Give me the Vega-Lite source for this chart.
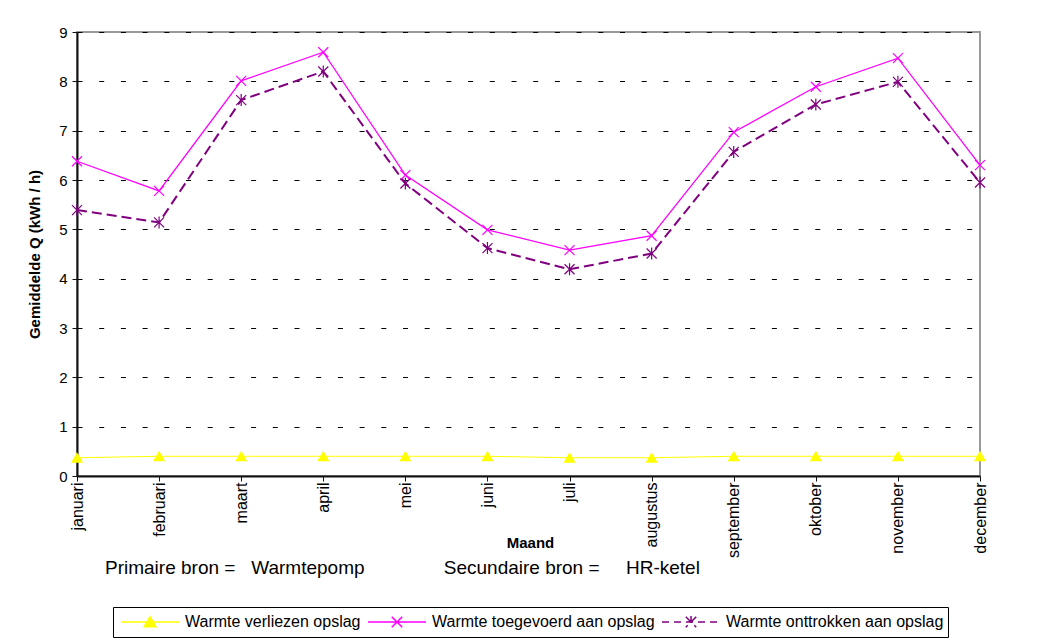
{
  "$schema": "https://vega.github.io/schema/vega-lite/v6.json",
  "width": 903,
  "height": 444,
  "autosize": {"type": "none"},
  "padding": {"left": 77, "top": 32, "right": 83, "bottom": 168},
  "background": "white",
  "title": {
    "text": "Primaire bron =\u00a0\u00a0\u00a0Warmtepomp\u00a0\u00a0\u00a0\u00a0\u00a0\u00a0\u00a0\u00a0\u00a0\u00a0\u00a0\u00a0\u00a0\u00a0\u00a0Secundaire bron =\u00a0\u00a0\u00a0\u00a0\u00a0HR-ketel",
    "orient": "bottom",
    "anchor": "start",
    "frame": "group",
    "dx": 28,
    "dy": -79,
    "offset": 0,
    "fontSize": 19,
    "fontWeight": "normal",
    "font": "Liberation Sans",
    "color": "black"
  },
  "data": {
    "values": [
      {"maand": "januari", "serie": "Warmte verliezen opslag", "q": 0.37},
      {"maand": "februari", "serie": "Warmte verliezen opslag", "q": 0.4},
      {"maand": "maart", "serie": "Warmte verliezen opslag", "q": 0.4},
      {"maand": "april", "serie": "Warmte verliezen opslag", "q": 0.4},
      {"maand": "mei", "serie": "Warmte verliezen opslag", "q": 0.4},
      {"maand": "juni", "serie": "Warmte verliezen opslag", "q": 0.4},
      {"maand": "juli", "serie": "Warmte verliezen opslag", "q": 0.37},
      {"maand": "augustus", "serie": "Warmte verliezen opslag", "q": 0.37},
      {"maand": "september", "serie": "Warmte verliezen opslag", "q": 0.4},
      {"maand": "oktober", "serie": "Warmte verliezen opslag", "q": 0.4},
      {"maand": "november", "serie": "Warmte verliezen opslag", "q": 0.4},
      {"maand": "december", "serie": "Warmte verliezen opslag", "q": 0.4},
      {"maand": "januari", "serie": "Warmte toegevoerd aan opslag", "q": 6.38},
      {"maand": "februari", "serie": "Warmte toegevoerd aan opslag", "q": 5.78},
      {"maand": "maart", "serie": "Warmte toegevoerd aan opslag", "q": 8.01},
      {"maand": "april", "serie": "Warmte toegevoerd aan opslag", "q": 8.59},
      {"maand": "mei", "serie": "Warmte toegevoerd aan opslag", "q": 6.1},
      {"maand": "juni", "serie": "Warmte toegevoerd aan opslag", "q": 4.99},
      {"maand": "juli", "serie": "Warmte toegevoerd aan opslag", "q": 4.58},
      {"maand": "augustus", "serie": "Warmte toegevoerd aan opslag", "q": 4.87},
      {"maand": "september", "serie": "Warmte toegevoerd aan opslag", "q": 6.97},
      {"maand": "oktober", "serie": "Warmte toegevoerd aan opslag", "q": 7.89},
      {"maand": "november", "serie": "Warmte toegevoerd aan opslag", "q": 8.47},
      {"maand": "december", "serie": "Warmte toegevoerd aan opslag", "q": 6.3},
      {"maand": "januari", "serie": "Warmte onttrokken aan opslag", "q": 5.39},
      {"maand": "februari", "serie": "Warmte onttrokken aan opslag", "q": 5.14},
      {"maand": "maart", "serie": "Warmte onttrokken aan opslag", "q": 7.62},
      {"maand": "april", "serie": "Warmte onttrokken aan opslag", "q": 8.2},
      {"maand": "mei", "serie": "Warmte onttrokken aan opslag", "q": 5.93},
      {"maand": "juni", "serie": "Warmte onttrokken aan opslag", "q": 4.62},
      {"maand": "juli", "serie": "Warmte onttrokken aan opslag", "q": 4.19},
      {"maand": "augustus", "serie": "Warmte onttrokken aan opslag", "q": 4.51},
      {"maand": "september", "serie": "Warmte onttrokken aan opslag", "q": 6.57},
      {"maand": "oktober", "serie": "Warmte onttrokken aan opslag", "q": 7.53},
      {"maand": "november", "serie": "Warmte onttrokken aan opslag", "q": 7.99},
      {"maand": "december", "serie": "Warmte onttrokken aan opslag", "q": 5.95}
    ]
  },
  "encoding": {
    "x": {
      "field": "maand",
      "type": "nominal",
      "scale": {"type": "point", "padding": 0, "domain": ["januari", "februari", "maart", "april", "mei", "juni", "juli", "augustus", "september", "oktober", "november", "december"]},
      "axis": {
        "title": "Maand",
        "titleFontWeight": "bold",
        "titleFontSize": 15,
        "titleX": 453,
        "titleY": 66,
        "titleBaseline": "middle",
        "labelAngle": 270,
        "labelFontSize": 16,
        "labelPadding": 1,
        "tickSize": 5,
        "grid": false,
        "domainColor": "#111111",
        "domainWidth": 2,
        "tickColor": "#111111",
        "labelColor": "black",
        "titleColor": "black"
      }
    },
    "y": {
      "field": "q",
      "type": "quantitative",
      "scale": {"domain": [0, 9], "nice": false},
      "axis": {
        "title": "Gemiddelde Q (kWh / h)",
        "titleFontWeight": "bold",
        "titleFontSize": 15,
        "titleX": -43,
        "titleY": 222,
        "titleAngle": 270,
        "titleBaseline": "middle",
        "titleAlign": "center",
        "values": [0, 1, 2, 3, 4, 5, 6, 7, 8, 9],
        "labelFontSize": 15,
        "labelPadding": 5,
        "tickSize": 5,
        "grid": true,
        "gridColor": "black",
        "gridDash": [5, 16.7],
        "gridWidth": 1,
        "domainColor": "#111111",
        "domainWidth": 2,
        "tickColor": "#111111",
        "labelColor": "black",
        "titleColor": "black"
      }
    }
  },
  "layer": [
    {
      "transform": [{"filter": "datum.serie === 'Warmte verliezen opslag'"}],
      "mark": {"type": "line", "color": "#FFFF00", "strokeWidth": 1}
    },
    {
      "transform": [{"filter": "datum.serie === 'Warmte toegevoerd aan opslag'"}],
      "mark": {"type": "line", "color": "#FF00FF", "strokeWidth": 1.3}
    },
    {
      "transform": [{"filter": "datum.serie === 'Warmte onttrokken aan opslag'"}],
      "mark": {"type": "line", "color": "#800080", "strokeWidth": 2, "strokeDash": [10, 5]}
    },
    {
      "mark": {"type": "point", "filled": true, "opacity": 1, "size": 100, "strokeWidth": 1.2},
      "encoding": {
        "shape": {
          "field": "serie", "type": "nominal", "legend": null,
          "scale": {
            "domain": ["Warmte verliezen opslag", "Warmte toegevoerd aan opslag", "Warmte onttrokken aan opslag"],
            "range": ["triangle-up", "M-1,-1L1,1M1,-1L-1,1", "M-1,-1L1,1M1,-1L-1,1M0,-1.2L0,1.2"]
          }
        },
        "fill": {
          "field": "serie", "type": "nominal", "legend": null,
          "scale": {
            "domain": ["Warmte verliezen opslag", "Warmte toegevoerd aan opslag", "Warmte onttrokken aan opslag"],
            "range": ["#FFFF00", "#FF00FF", "#800080"]
          }
        },
        "stroke": {
          "field": "serie", "type": "nominal", "legend": null,
          "scale": {
            "domain": ["Warmte verliezen opslag", "Warmte toegevoerd aan opslag", "Warmte onttrokken aan opslag"],
            "range": ["#FFFF00", "#FF00FF", "#800080"]
          }
        }
      }
    },
    {
      "transform": [{"filter": "false"}],
      "mark": {"type": "point", "filled": true, "opacity": 1, "size": 3364, "strokeWidth": 1.5},
      "encoding": {
        "shape": {
          "field": "serie", "type": "nominal",
          "legend": {"title": null, "orient": "none", "legendX": 36, "legendY": 575, "direction": "horizontal", "columns": 3},
          "scale": {
            "domain": ["Warmte verliezen opslag", "Warmte toegevoerd aan opslag", "Warmte onttrokken aan opslag"],
            "range": [
              "M-1,0H1M0,-0.18L0.2,0.16L-0.2,0.16Z",
              "M-1,0H1M-0.18,-0.18L0.18,0.18M0.18,-0.18L-0.18,0.18",
              "M-1,0H1M-0.18,-0.18L0.18,0.18M0.18,-0.18L-0.18,0.18M0,-0.21L0,0.21"
            ]
          }
        },
        "fill": {
          "field": "serie", "type": "nominal",
          "legend": {"title": null, "orient": "none", "legendX": 36, "legendY": 575, "direction": "horizontal", "columns": 3},
          "scale": {
            "domain": ["Warmte verliezen opslag", "Warmte toegevoerd aan opslag", "Warmte onttrokken aan opslag"],
            "range": ["#FFFF00", "#FF00FF", "#800080"]
          }
        },
        "stroke": {
          "field": "serie", "type": "nominal",
          "legend": {"title": null, "orient": "none", "legendX": 36, "legendY": 575, "direction": "horizontal", "columns": 3},
          "scale": {
            "domain": ["Warmte verliezen opslag", "Warmte toegevoerd aan opslag", "Warmte onttrokken aan opslag"],
            "range": ["#FFFF00", "#FF00FF", "#800080"]
          }
        },
        "strokeDash": {
          "field": "serie", "type": "nominal",
          "legend": {"title": null, "orient": "none", "legendX": 36, "legendY": 575, "direction": "horizontal", "columns": 3},
          "scale": {
            "domain": ["Warmte verliezen opslag", "Warmte toegevoerd aan opslag", "Warmte onttrokken aan opslag"],
            "range": [[1, 0], [1, 0], [7, 5]]
          }
        }
      }
    }
  ],
  "resolve": {
    "scale": {"shape": "independent", "fill": "independent", "stroke": "independent", "strokeDash": "independent"}
  },
  "config": {
    "font": "Liberation Sans",
    "view": {"stroke": "#999999", "strokeWidth": 2},
    "legend": {
      "labelFont": "Liberation Sans",
      "labelFontSize": 16,
      "labelColor": "black",
      "labelLimit": 400,
      "padding": 4,
      "strokeColor": "black",
      "strokeWidth": 1,
      "fillColor": "white",
      "clipHeight": 22,
      "symbolOffset": 3,
      "labelOffset": 5,
      "columnPadding": 3,
      "symbolSize": 3364,
      "symbolStrokeWidth": 1.5
    }
  }
}
